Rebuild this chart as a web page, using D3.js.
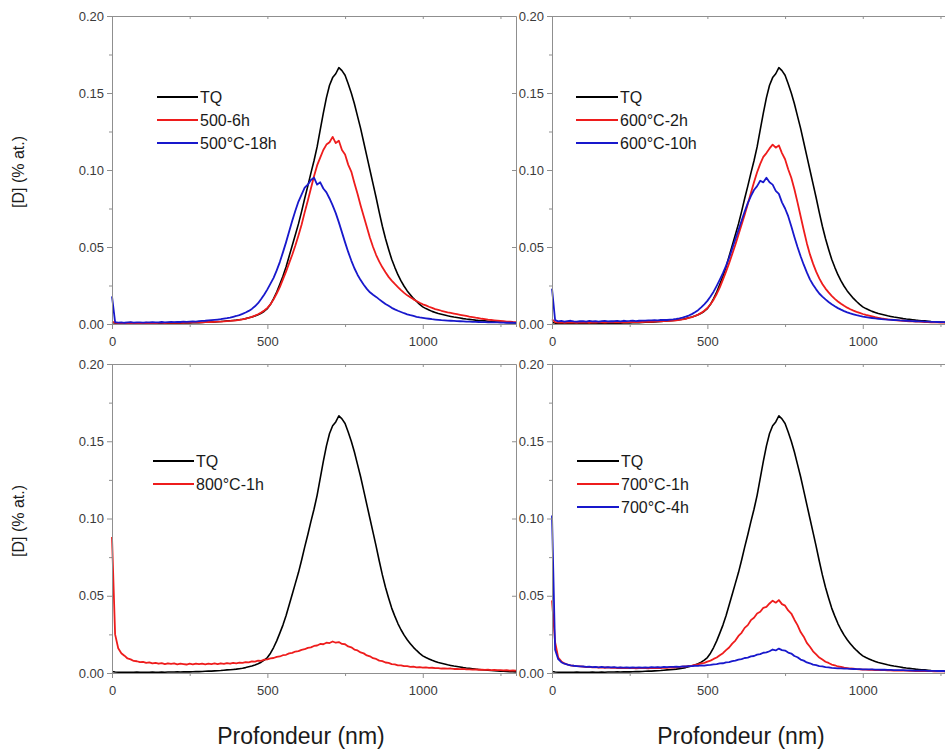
<!DOCTYPE html>
<html>
<head>
<meta charset="utf-8">
<script src="https://cdn.jsdelivr.net/npm/d3@7"></script>
<style>
  html, body { margin: 0; padding: 0; background: #fff; }
  svg { display: block; font-family: "Liberation Sans", Arial, sans-serif; }
</style>
</head>
<body>
<svg id="chart" width="945" height="753"></svg>
<script>
// ---------------- DATA ----------------
const depth = [
  0,10,20,30,40,50,60,70,80,90,
  100,110,120,130,140,150,160,170,180,190,
  200,210,220,230,240,250,260,270,280,290,
  300,310,320,330,340,350,360,370,380,390,
  400,410,420,430,440,450,460,470,480,490,
  500,510,520,530,540,550,560,570,580,590,
  600,610,620,630,640,650,660,670,680,690,
  700,710,720,730,740,750,760,770,780,790,
  800,810,820,830,840,850,860,870,880,890,
  900,910,920,930,940,950,960,970,980,990,
  1000,1010,1020,1030,1040,1050,1060,1070,1080,1090,
  1100,1110,1120,1130,1140,1150,1160,1170,1180,1190,
  1200,1210,1220,1230,1240,1250,1260,1270,1280,1290,
  1300
];

const TQ = [
  0.0010,0.0006,0.0005,0.0004,0.0005,0.0005,0.0004,0.0005,0.0006,0.0005,
  0.0005,0.0004,0.0005,0.0006,0.0005,0.0005,0.0006,0.0005,0.0006,0.0006,
  0.0006,0.0007,0.0006,0.0007,0.0008,0.0007,0.0008,0.0009,0.0009,0.0010,
  0.0011,0.0012,0.0012,0.0014,0.0015,0.0016,0.0018,0.0020,0.0021,0.0023,
  0.0025,0.0028,0.0031,0.0035,0.0040,0.0045,0.0052,0.0060,0.0070,0.0083,
  0.0100,0.0128,0.0165,0.0208,0.0258,0.0310,0.0370,0.0440,0.0510,0.0580,
  0.0650,0.0730,0.0815,0.0895,0.0980,0.1060,0.1150,0.1260,0.1370,0.1470,
  0.1550,0.1600,0.1625,0.1665,0.1645,0.1615,0.1560,0.1500,0.1430,0.1350,
  0.1270,0.1180,0.1090,0.1000,0.0910,0.0820,0.0725,0.0635,0.0555,0.0485,
  0.0420,0.0368,0.0320,0.0280,0.0245,0.0215,0.0190,0.0166,0.0146,0.0127,
  0.0111,0.0100,0.0091,0.0082,0.0075,0.0068,0.0063,0.0058,0.0053,0.0049,
  0.0045,0.0042,0.0039,0.0035,0.0032,0.0030,0.0028,0.0025,0.0023,0.0021,
  0.0020,0.0018,0.0016,0.0015,0.0013,0.0012,0.0011,0.0010,0.0009,0.0008,
  0.0007
];

const r500_6h = [
  0.0015,0.0008,0.0006,0.0007,0.0005,0.0006,0.0008,0.0006,0.0005,0.0007,
  0.0006,0.0008,0.0006,0.0007,0.0005,0.0007,0.0008,0.0006,0.0007,0.0008,
  0.0008,0.0007,0.0009,0.0008,0.0010,0.0009,0.0011,0.0010,0.0012,0.0011,
  0.0012,0.0013,0.0012,0.0014,0.0015,0.0016,0.0017,0.0019,0.0020,0.0022,
  0.0024,0.0027,0.0030,0.0035,0.0040,0.0046,0.0054,0.0063,0.0074,0.0088,
  0.0105,0.0128,0.0160,0.0198,0.0240,0.0290,0.0340,0.0395,0.0450,0.0510,
  0.0575,0.0645,0.0725,0.0800,0.0880,0.0960,0.1030,0.1080,0.1130,0.1165,
  0.1180,0.1215,0.1175,0.1190,0.1130,0.1100,0.1035,0.0990,0.0915,0.0845,
  0.0770,0.0700,0.0630,0.0560,0.0500,0.0448,0.0405,0.0368,0.0336,0.0306,
  0.0282,0.0260,0.0240,0.0220,0.0202,0.0186,0.0173,0.0160,0.0149,0.0138,
  0.0128,0.0121,0.0112,0.0105,0.0097,0.0092,0.0086,0.0081,0.0076,0.0072,
  0.0068,0.0064,0.0060,0.0056,0.0052,0.0048,0.0045,0.0041,0.0038,0.0034,
  0.0031,0.0028,0.0026,0.0024,0.0022,0.0020,0.0018,0.0016,0.0015,0.0013,
  0.0012
];

const b500_18h = [
  0.0180,0.0012,0.0009,0.0011,0.0008,0.0010,0.0012,0.0009,0.0011,0.0010,
  0.0009,0.0011,0.0010,0.0012,0.0010,0.0011,0.0013,0.0011,0.0012,0.0013,
  0.0012,0.0014,0.0013,0.0015,0.0014,0.0016,0.0017,0.0016,0.0018,0.0020,
  0.0021,0.0023,0.0025,0.0027,0.0029,0.0031,0.0035,0.0038,0.0042,0.0047,
  0.0052,0.0058,0.0066,0.0075,0.0085,0.0098,0.0115,0.0135,0.0162,0.0192,
  0.0225,0.0262,0.0300,0.0348,0.0402,0.0465,0.0530,0.0600,0.0670,0.0735,
  0.0795,0.0840,0.0885,0.0905,0.0935,0.0950,0.0905,0.0920,0.0880,0.0855,
  0.0815,0.0770,0.0720,0.0660,0.0595,0.0530,0.0468,0.0412,0.0362,0.0320,
  0.0285,0.0255,0.0228,0.0206,0.0190,0.0176,0.0160,0.0145,0.0130,0.0118,
  0.0105,0.0095,0.0086,0.0078,0.0070,0.0063,0.0057,0.0052,0.0047,0.0043,
  0.0040,0.0037,0.0034,0.0031,0.0029,0.0027,0.0025,0.0024,0.0022,0.0021,
  0.0020,0.0019,0.0018,0.0017,0.0016,0.0015,0.0014,0.0014,0.0013,0.0012,
  0.0012,0.0011,0.0011,0.0010,0.0010,0.0009,0.0009,0.0008,0.0008,0.0008,
  0.0007
];

const r600_2h = [
  0.0030,0.0012,0.0009,0.0010,0.0008,0.0009,0.0011,0.0009,0.0008,0.0010,
  0.0009,0.0010,0.0008,0.0010,0.0009,0.0011,0.0010,0.0009,0.0011,0.0010,
  0.0010,0.0011,0.0010,0.0012,0.0011,0.0012,0.0013,0.0012,0.0014,0.0013,
  0.0014,0.0015,0.0014,0.0016,0.0017,0.0018,0.0019,0.0020,0.0021,0.0022,
  0.0024,0.0027,0.0030,0.0034,0.0039,0.0045,0.0052,0.0061,0.0072,0.0086,
  0.0104,0.0128,0.0158,0.0195,0.0238,0.0288,0.0340,0.0395,0.0455,0.0515,
  0.0580,0.0645,0.0710,0.0780,0.0850,0.0920,0.0985,0.1040,0.1085,0.1110,
  0.1140,0.1165,0.1145,0.1160,0.1110,0.1070,0.1005,0.0950,0.0875,0.0790,
  0.0700,0.0610,0.0525,0.0452,0.0392,0.0340,0.0296,0.0260,0.0230,0.0205,
  0.0183,0.0163,0.0146,0.0131,0.0118,0.0106,0.0096,0.0087,0.0079,0.0072,
  0.0065,0.0059,0.0054,0.0049,0.0044,0.0040,0.0036,0.0033,0.0030,0.0028,
  0.0026,0.0024,0.0022,0.0021,0.0019,0.0018,0.0017,0.0016,0.0015,0.0014,
  0.0013,0.0012,0.0011,0.0011,0.0010,0.0009,0.0009,0.0008,0.0007,0.0007,
  0.0006
];

const b600_10h = [
  0.0230,0.0025,0.0017,0.0020,0.0016,0.0019,0.0021,0.0017,0.0015,0.0019,
  0.0018,0.0016,0.0020,0.0017,0.0019,0.0016,0.0018,0.0020,0.0017,0.0019,
  0.0018,0.0020,0.0017,0.0021,0.0019,0.0020,0.0022,0.0019,0.0021,0.0022,
  0.0022,0.0024,0.0023,0.0025,0.0024,0.0026,0.0027,0.0026,0.0029,0.0030,
  0.0033,0.0037,0.0042,0.0048,0.0055,0.0064,0.0076,0.0090,0.0108,0.0128,
  0.0150,0.0178,0.0210,0.0248,0.0288,0.0330,0.0378,0.0430,0.0490,0.0550,
  0.0610,0.0670,0.0730,0.0785,0.0830,0.0870,0.0895,0.0930,0.0920,0.0950,
  0.0920,0.0905,0.0865,0.0845,0.0790,0.0750,0.0700,0.0635,0.0565,0.0500,
  0.0440,0.0385,0.0335,0.0290,0.0255,0.0225,0.0198,0.0178,0.0160,0.0143,
  0.0128,0.0115,0.0103,0.0093,0.0084,0.0076,0.0069,0.0063,0.0057,0.0052,
  0.0048,0.0045,0.0042,0.0039,0.0036,0.0034,0.0032,0.0030,0.0029,0.0027,
  0.0026,0.0025,0.0023,0.0022,0.0021,0.0020,0.0019,0.0018,0.0017,0.0017,
  0.0016,0.0015,0.0014,0.0014,0.0013,0.0012,0.0012,0.0011,0.0011,0.0010,
  0.0010
];

const r800_1h = [
  0.0880,0.0250,0.0160,0.0128,0.0112,0.0094,0.0088,0.0078,0.0076,0.0070,
  0.0072,0.0066,0.0069,0.0062,0.0066,0.0060,0.0064,0.0058,0.0063,0.0059,
  0.0062,0.0056,0.0061,0.0058,0.0055,0.0060,0.0056,0.0061,0.0057,0.0060,
  0.0056,0.0061,0.0058,0.0062,0.0057,0.0063,0.0059,0.0064,0.0060,0.0065,
  0.0062,0.0067,0.0065,0.0071,0.0069,0.0075,0.0074,0.0080,0.0079,0.0086,
  0.0088,0.0094,0.0097,0.0104,0.0107,0.0115,0.0118,0.0127,0.0130,0.0139,
  0.0142,0.0150,0.0154,0.0163,0.0166,0.0175,0.0178,0.0188,0.0186,0.0196,
  0.0194,0.0204,0.0196,0.0200,0.0188,0.0186,0.0172,0.0166,0.0152,0.0146,
  0.0133,0.0127,0.0114,0.0108,0.0096,0.0091,0.0080,0.0077,0.0068,0.0065,
  0.0058,0.0056,0.0050,0.0049,0.0044,0.0044,0.0040,0.0041,0.0037,0.0038,
  0.0035,0.0036,0.0033,0.0034,0.0031,0.0032,0.0029,0.0030,0.0028,0.0029,
  0.0026,0.0027,0.0025,0.0026,0.0023,0.0024,0.0022,0.0023,0.0021,0.0022,
  0.0020,0.0021,0.0019,0.0020,0.0018,0.0019,0.0017,0.0018,0.0016,0.0017,
  0.0015
];

const r700_1h = [
  0.0470,0.0200,0.0100,0.0075,0.0062,0.0055,0.0050,0.0047,0.0045,0.0043,
  0.0041,0.0038,0.0040,0.0036,0.0038,0.0035,0.0037,0.0034,0.0036,0.0033,
  0.0035,0.0032,0.0034,0.0031,0.0033,0.0031,0.0033,0.0030,0.0032,0.0031,
  0.0032,0.0030,0.0033,0.0031,0.0034,0.0032,0.0035,0.0033,0.0036,0.0035,
  0.0037,0.0038,0.0041,0.0042,0.0046,0.0048,0.0053,0.0056,0.0062,0.0066,
  0.0074,0.0080,0.0091,0.0100,0.0115,0.0128,0.0148,0.0165,0.0190,0.0210,
  0.0240,0.0260,0.0292,0.0310,0.0342,0.0358,0.0385,0.0396,0.0422,0.0428,
  0.0450,0.0468,0.0455,0.0472,0.0446,0.0436,0.0405,0.0385,0.0345,0.0310,
  0.0265,0.0235,0.0195,0.0170,0.0140,0.0120,0.0100,0.0087,0.0073,0.0065,
  0.0055,0.0050,0.0042,0.0039,0.0034,0.0032,0.0029,0.0028,0.0025,0.0024,
  0.0022,0.0022,0.0020,0.0021,0.0019,0.0019,0.0018,0.0018,0.0017,0.0017,
  0.0016,0.0016,0.0015,0.0016,0.0015,0.0014,0.0014,0.0013,0.0014,0.0013,
  0.0012,0.0013,0.0012,0.0011,0.0012,0.0011,0.0010,0.0011,0.0010,0.0010,
  0.0010
];

const b700_4h = [
  0.1020,0.0150,0.0090,0.0070,0.0060,0.0055,0.0050,0.0047,0.0045,0.0043,
  0.0042,0.0039,0.0041,0.0038,0.0040,0.0037,0.0039,0.0036,0.0038,0.0036,
  0.0038,0.0035,0.0037,0.0035,0.0037,0.0034,0.0036,0.0035,0.0037,0.0035,
  0.0037,0.0035,0.0038,0.0036,0.0038,0.0037,0.0039,0.0038,0.0040,0.0039,
  0.0041,0.0040,0.0043,0.0042,0.0045,0.0044,0.0047,0.0046,0.0049,0.0048,
  0.0051,0.0052,0.0056,0.0057,0.0062,0.0063,0.0069,0.0071,0.0077,0.0080,
  0.0087,0.0090,0.0097,0.0100,0.0108,0.0110,0.0119,0.0122,0.0131,0.0133,
  0.0141,0.0152,0.0146,0.0158,0.0148,0.0145,0.0132,0.0126,0.0110,0.0102,
  0.0087,0.0080,0.0068,0.0063,0.0054,0.0051,0.0045,0.0043,0.0038,0.0037,
  0.0033,0.0032,0.0030,0.0030,0.0028,0.0028,0.0027,0.0026,0.0025,0.0025,
  0.0024,0.0024,0.0023,0.0023,0.0022,0.0022,0.0021,0.0021,0.0020,0.0020,
  0.0019,0.0019,0.0018,0.0018,0.0017,0.0017,0.0016,0.0016,0.0015,0.0015,
  0.0015,0.0014,0.0014,0.0014,0.0013,0.0013,0.0013,0.0012,0.0012,0.0012,
  0.0012
];

const xTicks = [0, 500, 1000];
const xMinorTicks = [250, 750, 1250];
const yTicks = [0, 0.05, 0.10, 0.15, 0.20];
const yMinorTicks = [0.025, 0.075, 0.125, 0.175];
const xTitle = "Profondeur (nm)";
const yTitle = "[D] (% at.)";

const panels = [
  { left: 112, top: 16,  h: 308, series: [
      { name: "TQ", values: TQ, color: "#000000" },
      { name: "500-6h", values: r500_6h, color: "#ee1c1c" },
      { name: "500°C-18h", values: b500_18h, color: "#1818cc" } ],
    legend: { x: 157, y: 97, step: 23, len: 41 } },
  { left: 552, top: 16,  h: 308, series: [
      { name: "TQ", values: TQ, color: "#000000" },
      { name: "600°C-2h", values: r600_2h, color: "#ee1c1c" },
      { name: "600°C-10h", values: b600_10h, color: "#1818cc" } ],
    legend: { x: 576, y: 97, step: 23, len: 42 } },
  { left: 112, top: 364, h: 309, series: [
      { name: "TQ", values: TQ, color: "#000000" },
      { name: "800°C-1h", values: r800_1h, color: "#ee1c1c" } ],
    legend: { x: 153, y: 461, step: 23, len: 41 } },
  { left: 552, top: 364, h: 309, series: [
      { name: "TQ", values: TQ, color: "#000000" },
      { name: "700°C-1h", values: r700_1h, color: "#ee1c1c" },
      { name: "700°C-4h", values: b700_4h, color: "#1818cc" } ],
    legend: { x: 577, y: 461, step: 23, len: 42 } }
];

// ---------------- DRAW ----------------
const svg = d3.select("#chart");
const W = 404;
const axisColor = "#8f8f8f";
const labelColor = "#3a3a3a";

panels.forEach(p => {
  const x = d3.scaleLinear().domain([0, 1300]).range([0, W]);
  const y = d3.scaleLinear().domain([0, 0.2]).range([p.h, 0]);
  const g = svg.append("g").attr("transform", `translate(${p.left},${p.top})`);

  function styleAxis(sel) {
    sel.selectAll("path.domain").attr("stroke", axisColor).attr("stroke-width", 1);
    sel.selectAll(".tick line").attr("stroke", axisColor);
    sel.selectAll(".tick text").attr("fill", labelColor).attr("font-size", 13)
      .attr("font-family", '"Liberation Sans", Arial, sans-serif');
  }

  // minor ticks
  g.append("g").attr("transform", `translate(0,${p.h})`)
    .call(d3.axisBottom(x).tickValues(xMinorTicks).tickSize(3).tickFormat(""))
    .call(styleAxis);
  g.append("g")
    .call(d3.axisLeft(y).tickValues(yMinorTicks).tickSize(3).tickFormat(""))
    .call(styleAxis);
  // top and right frame (ticks inward)
  g.append("g")
    .call(d3.axisBottom(x).tickValues(xTicks.concat(xMinorTicks)).tickSizeInner(3).tickSizeOuter(0).tickFormat(""))
    .call(styleAxis);
  g.append("g").attr("transform", `translate(${W},0)`)
    .call(d3.axisLeft(y).tickValues(yTicks).tickSizeInner(-0).tickSizeOuter(0).tickFormat(""))
    .call(styleAxis);
  g.append("g").attr("transform", `translate(${W},0)`)
    .call(d3.axisLeft(y).tickValues(yTicks.slice(1, 4)).tickSize(4).tickFormat(""))
    .call(sel => { sel.select("path.domain").remove(); sel.selectAll(".tick line").attr("stroke", axisColor); });

  // curves
  const line = d3.line().x((d, i) => x(depth[i])).y(d => y(d));
  p.series.forEach((s, i) => {
    g.append("path").datum(s.values)
      .attr("fill", "none").attr("stroke", s.color)
      .attr("stroke-width", i === 0 ? 1.6 : 1.8).attr("stroke-linejoin", "round")
      .attr("d", line);
  });

  // major axes
  g.append("g").attr("transform", `translate(0,${p.h})`)
    .call(d3.axisBottom(x).tickValues(xTicks).tickSize(5).tickSizeOuter(0).tickPadding(8).tickFormat(d3.format("d")))
    .call(styleAxis);
  g.append("g")
    .call(d3.axisLeft(y).tickValues(yTicks).tickSize(5).tickSizeOuter(0).tickPadding(3).tickFormat(d3.format(".2f")))
    .call(styleAxis);

  // legend
  const lg = svg.append("g");
  p.series.forEach((s, i) => {
    const ly = p.legend.y + i * p.legend.step;
    lg.append("line")
      .attr("x1", p.legend.x).attr("x2", p.legend.x + p.legend.len)
      .attr("y1", ly).attr("y2", ly)
      .attr("stroke", s.color).attr("stroke-width", 2);
    lg.append("text")
      .attr("x", p.legend.x + p.legend.len + 2).attr("y", ly)
      .attr("dy", "0.36em")
      .attr("font-size", 16).attr("fill", "#1a1a1a")
      .text(s.name);
  });
});

// axis titles
[301, 741].forEach(cx => {
  svg.append("text").attr("x", cx).attr("y", 744)
    .attr("text-anchor", "middle").attr("font-size", 23).attr("fill", "#1a1a1a")
    .text(xTitle);
});
[172, 521].forEach(cy => {
  svg.append("text").attr("transform", `translate(24,${cy}) rotate(-90)`)
    .attr("text-anchor", "middle").attr("font-size", 16).attr("fill", "#1a1a1a")
    .text(yTitle);
});
</script>
</body>
</html>
